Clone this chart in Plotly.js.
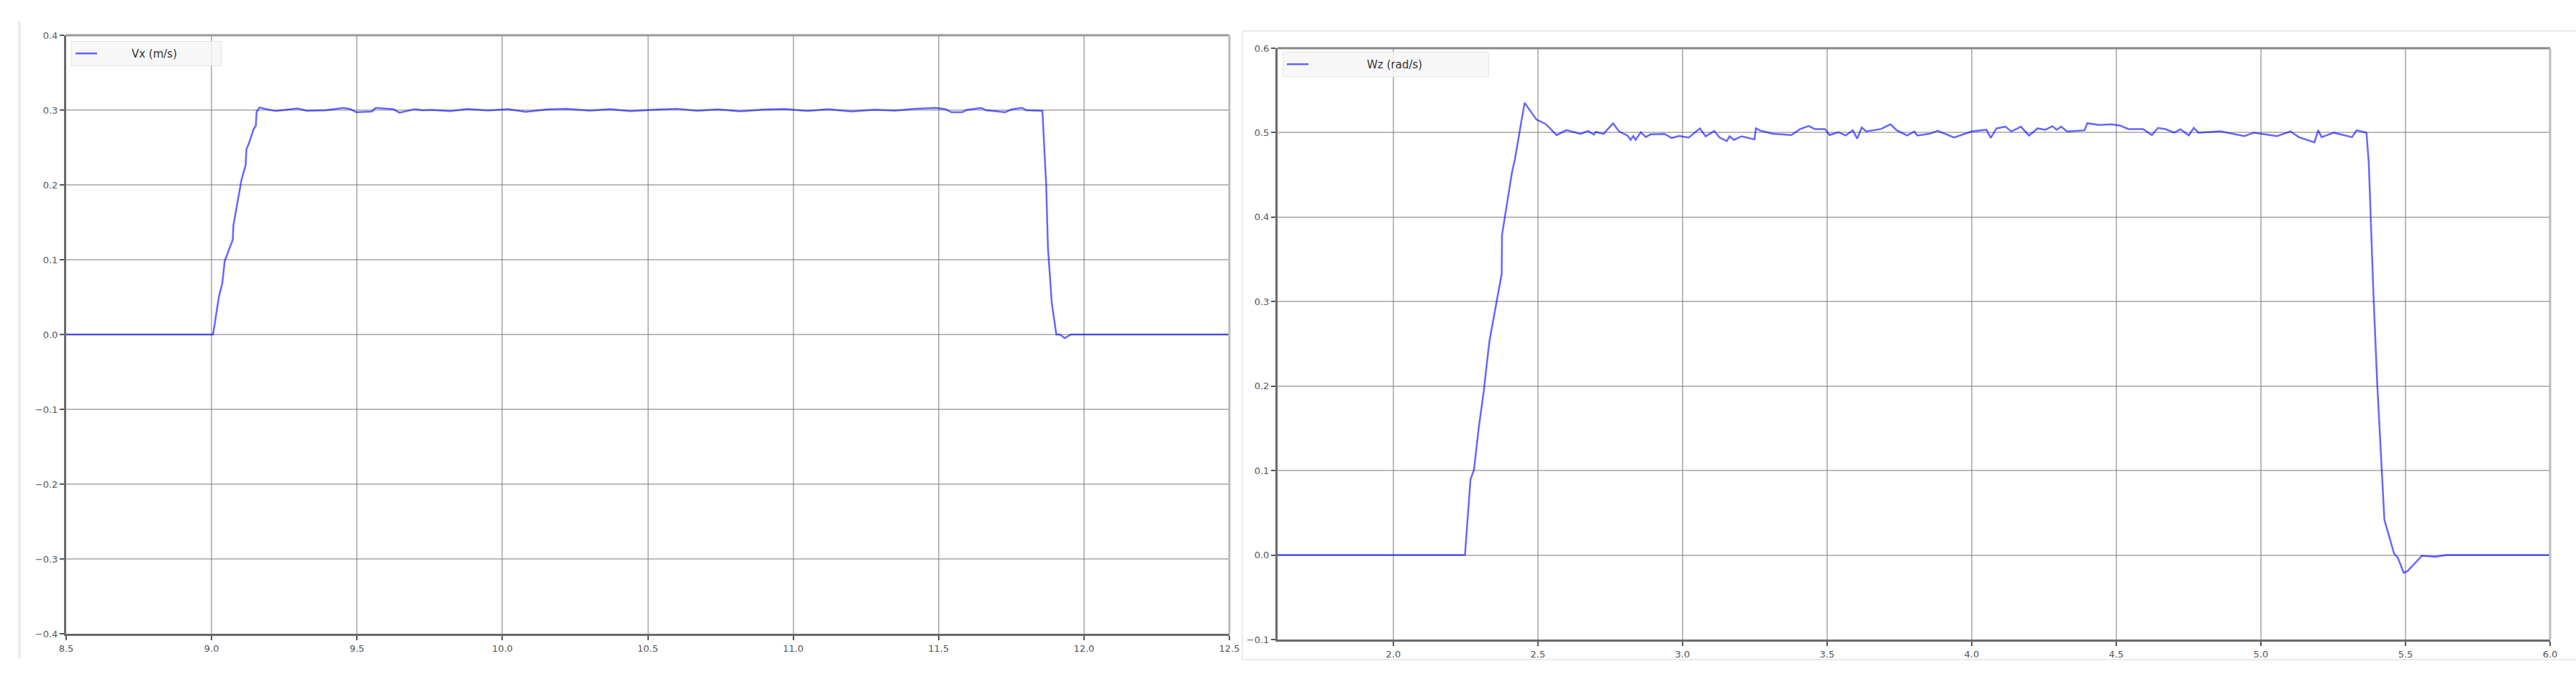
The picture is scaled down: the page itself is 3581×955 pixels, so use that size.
<!DOCTYPE html>
<html>
<head>
<meta charset="utf-8">
<script src="https://cdn.plot.ly/plotly-3.0.1.min.js"></script>
<style>
  body { margin: 0; padding: 0; background: #fff; }
  #plot_data { width: 3581px; height: 955px; }
</style>
</head>
<body>
<div id="plot_data"></div>
<script>
// Vx (m/s) vs time
var vxTime = [8.5, 9.0, 9.005, 9.025, 9.037, 9.045, 9.073, 9.075, 9.089, 9.095, 9.103, 9.117, 9.12, 9.128,
  9.144, 9.152, 9.155, 9.165, 9.18, 9.221, 9.295, 9.328, 9.394, 9.452, 9.477, 9.498, 9.551, 9.564, 9.625,
  9.646, 9.7, 9.724, 9.757, 9.82, 9.88, 9.95, 10.02, 10.08, 10.15, 10.22, 10.3, 10.37, 10.44, 10.52, 10.6,
  10.67, 10.74, 10.82, 10.9, 10.97, 11.05, 11.12, 11.2, 11.28, 11.35, 11.42, 11.49, 11.523, 11.544, 11.581,
  11.597, 11.647, 11.663, 11.729, 11.754, 11.787, 11.803, 11.857, 11.87, 11.876, 11.889, 11.905, 11.917,
  11.934, 11.955, 12.5];
var vxVal = [0, 0, 0, 0.05, 0.069, 0.098, 0.127, 0.146, 0.178, 0.188, 0.207, 0.226, 0.248, 0.255,
  0.274, 0.279, 0.298, 0.3035, 0.302, 0.2987, 0.3022, 0.299, 0.2997, 0.3029, 0.3013, 0.2971, 0.2981, 0.3029, 0.3013,
  0.2965, 0.3013, 0.2997, 0.3003, 0.2985, 0.3015, 0.2995, 0.3012, 0.2975, 0.3008, 0.3018, 0.2992, 0.3012, 0.2985, 0.3005, 0.3018,
  0.299, 0.301, 0.2982, 0.3008, 0.3015, 0.2988, 0.3012, 0.298, 0.3005, 0.2992, 0.3018, 0.3029, 0.3013, 0.2971, 0.2971,
  0.3003, 0.3029, 0.2997, 0.2971, 0.3013, 0.3029, 0.2997, 0.299, 0.2003, 0.117, 0.043, 0, 0,
  -0.0048, 0, 0];

// Wz (rad/s) vs time
var wzTime = [1.6, 2.248, 2.267, 2.279, 2.296, 2.313, 2.327, 2.333, 2.354, 2.375, 2.376, 2.387, 2.39, 2.41,
  2.421, 2.437, 2.454, 2.495, 2.528, 2.565, 2.598, 2.648, 2.673, 2.694, 2.70, 2.727, 2.76, 2.781, 2.81,
  2.821, 2.83, 2.838, 2.856, 2.873, 2.89, 2.938, 2.963, 2.988, 3.022, 3.06, 3.08, 3.11, 3.128, 3.153,
  3.163, 3.178, 3.204, 3.249, 3.254, 3.27, 3.315, 3.376, 3.407, 3.437, 3.457, 3.493, 3.508, 3.539, 3.564,
  3.589, 3.604, 3.62, 3.635, 3.686, 3.719, 3.741, 3.777, 3.802, 3.812, 3.853, 3.883, 3.939, 4.0, 4.051,
  4.066, 4.086, 4.117, 4.137, 4.17, 4.198, 4.228, 4.254, 4.279, 4.294, 4.309, 4.33, 4.39, 4.4, 4.441,
  4.482, 4.512, 4.542, 4.593, 4.623, 4.644, 4.672, 4.70, 4.722, 4.751, 4.768, 4.784, 4.86, 4.943, 4.976,
  5.056, 5.102, 5.131, 5.185, 5.198, 5.21, 5.252, 5.315, 5.331, 5.365, 5.373, 5.39, 5.402, 5.427, 5.461,
  5.473, 5.494, 5.507, 5.557, 5.603, 5.64, 6.0];
var wzVal = [0, 0, 0.0894, 0.1007, 0.1518, 0.194, 0.237, 0.254, 0.2936, 0.333, 0.379, 0.4014, 0.409, 0.452,
  0.469, 0.503, 0.5354, 0.5156, 0.51, 0.497, 0.503, 0.4985, 0.502, 0.4977, 0.501, 0.4985, 0.511, 0.5014, 0.4966,
  0.4915, 0.496, 0.4915, 0.5005, 0.4949, 0.498, 0.4985, 0.4937, 0.496, 0.4943, 0.505, 0.4957, 0.502, 0.4943, 0.4901,
  0.4957, 0.4915, 0.4957, 0.4921, 0.5051, 0.5023, 0.4986, 0.4972, 0.5043, 0.5079, 0.5043, 0.5043, 0.4972, 0.5006, 0.4966,
  0.5028, 0.4929, 0.5062, 0.5014, 0.5043, 0.5099, 0.5028, 0.4966, 0.5014, 0.4966, 0.4986, 0.5023, 0.4943, 0.5014, 0.5034,
  0.4938, 0.5051, 0.5071, 0.5014, 0.5071, 0.4966, 0.5051, 0.5034, 0.5077, 0.5034, 0.5071, 0.5014, 0.5028, 0.5113, 0.5091,
  0.5099, 0.5085, 0.5043, 0.5043, 0.4972, 0.5057, 0.504, 0.5, 0.504, 0.4968, 0.5057, 0.5, 0.5016, 0.496, 0.5,
  0.496, 0.5016, 0.4947, 0.4886, 0.5028, 0.4947, 0.5, 0.4947, 0.5028, 0.5, 0.4643, 0.3018, 0.2043, 0.0418, 0.0012,
  -0.0028, -0.021, -0.019, -0.0008, -0.002, 0, 0];

var vxName = "Vx (m/s)";
var wzName = "Wz (rad/s)";

var W = 3581, H = 955;
// pixel -> paper helpers
function px(x) { return x / W; }
function py(y) { return 1 - y / H; }
// non-breaking spaces, so the label sits in the middle of the legend box
function pad(n) { return new Array(n + 1).join('\u00a0'); }

var lineStyle = { color: 'rgba(0,0,255,0.6)', width: 2.5 };

var traceVx = {
  x: vxTime, y: vxVal, mode: 'lines', name: pad(9) + vxName,
  line: lineStyle, xaxis: 'x', yaxis: 'y', legend: 'legend'
};
var traceWz = {
  x: wzTime, y: wzVal, mode: 'lines', name: pad(16) + wzName,
  line: lineStyle, xaxis: 'x2', yaxis: 'y2', legend: 'legend2'
};

var tickFont = { family: 'DejaVu Sans, sans-serif', size: 13, color: '#555' };

function axisStyle(extra) {
  var a = {
    showgrid: true, gridcolor: 'rgba(120,120,120,0.5)', gridwidth: 2,
    zeroline: false, showline: true, linecolor: '#6a6a6a', linewidth: 3,
    ticks: 'outside', ticklen: 6, tickwidth: 2, tickcolor: '#555',
    tickfont: tickFont, tickformat: '.1f', fixedrange: true
  };
  for (var k in extra) a[k] = extra[k];
  return a;
}

var legendBase = {
  xanchor: 'left', yanchor: 'top', orientation: 'h',
  bgcolor: 'rgba(246,246,246,0.85)', bordercolor: '#e4e4e4', borderwidth: 1,
  font: { family: 'DejaVu Sans, sans-serif', size: 15, color: '#333' },
  itemwidth: 30, tracegroupgap: 0
};

var legend1 = Object.assign({}, legendBase, { x: px(99), y: py(57), entrywidth: 162 });
var legend2 = Object.assign({}, legendBase, { x: px(1783), y: py(72), entrywidth: 240 });

var layout = {
  width: W, height: H,
  margin: { l: 0, r: 0, t: 0, b: 0 },
  paper_bgcolor: '#fff', plot_bgcolor: '#fff',
  showlegend: true,
  xaxis: axisStyle({ domain: [px(92), px(1709)], range: [8.5, 12.5], dtick: 0.5, tick0: 8.5, anchor: 'y' }),
  yaxis: axisStyle({ domain: [py(881), py(49)], range: [-0.4, 0.4], dtick: 0.1, tick0: 0, anchor: 'x' }),
  xaxis2: axisStyle({ domain: [px(1776), px(3545)], range: [1.6, 6.0], dtick: 0.5, tick0: 2.0, anchor: 'y2' }),
  yaxis2: axisStyle({ domain: [py(889), py(67)], range: [-0.1, 0.6], dtick: 0.1, tick0: 0, anchor: 'x2' }),
  legend: legend1,
  legend2: legend2,
  shapes: [
    // top / right spines, lighter than left / bottom
    { type: 'line', xref: 'x domain', yref: 'y domain', x0: 0, x1: 1, y0: 1, y1: 1, line: { color: '#999', width: 3 } },
    { type: 'line', xref: 'x domain', yref: 'y domain', x0: 1, x1: 1, y0: 0, y1: 1, line: { color: '#bbb', width: 3 } },
    { type: 'line', xref: 'x2 domain', yref: 'y2 domain', x0: 0, x1: 1, y0: 1, y1: 1, line: { color: '#888', width: 3 } },
    { type: 'line', xref: 'x2 domain', yref: 'y2 domain', x0: 1, x1: 1, y0: 0, y1: 1, line: { color: '#bbb', width: 3 } },
    // faint frames of the two screenshots
    { type: 'line', xref: 'paper', yref: 'paper', x0: px(27), x1: px(27), y0: py(30), y1: py(915), line: { color: '#ece8e2', width: 3 } },
    { type: 'rect', xref: 'paper', yref: 'paper', x0: px(1727), x1: px(3590), y0: py(917), y1: py(43), line: { color: '#eeeae6', width: 2 }, layer: 'below' }
  ]
};

Plotly.newPlot('plot_data', [traceVx, traceWz], layout, { displayModeBar: false, staticPlot: true });
</script>
</body>
</html>
